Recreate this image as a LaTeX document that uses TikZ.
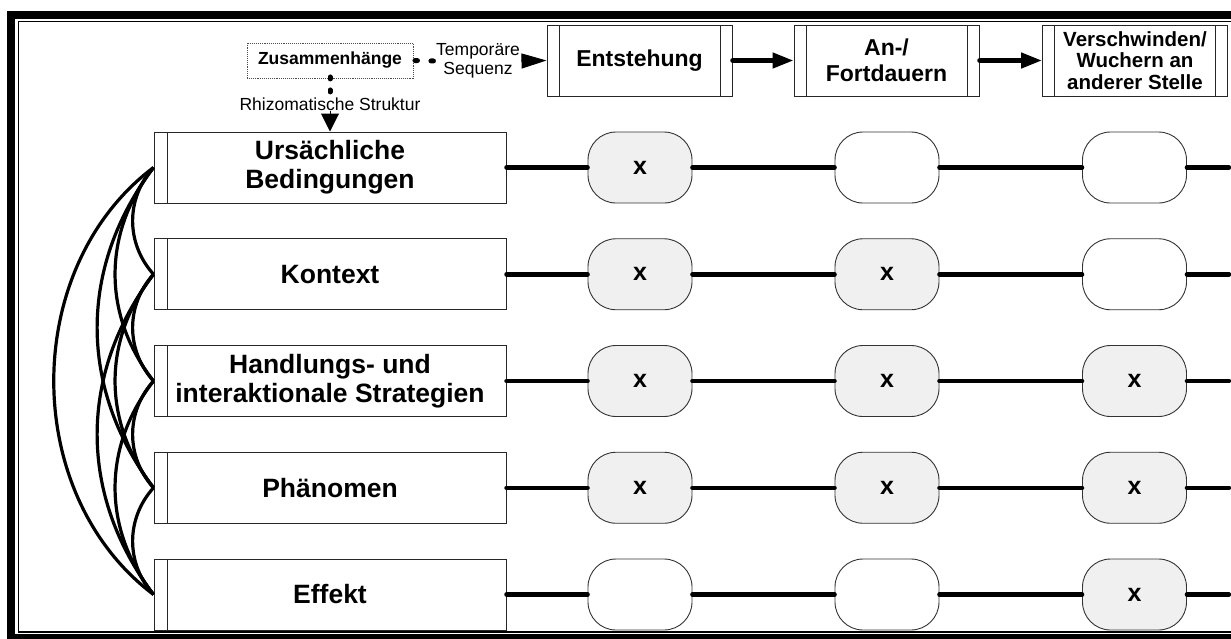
\documentclass[tikz,border=0pt]{standalone}
\usepackage{fontspec}
\setmainfont{Liberation Sans}
\usetikzlibrary{arrows.meta}
\begin{document}
\begin{tikzpicture}[x=1pt,y=-1pt,
  boxline/.style={draw=black!85, line width=1pt},
  rowlabel/.style={boxline, fill=white, minimum width=352pt, minimum height=71pt,
    inner sep=0pt, align=center, font=\fontsize{26.5}{29}\selectfont\bfseries,
    path picture={\draw[black!85, line width=1pt]
      ([xshift=13pt]path picture bounding box.north west) --
      ([xshift=13pt]path picture bounding box.south west);}},
  stagebox/.style={boxline, fill=white, minimum width=185pt, minimum height=71pt,
    inner sep=0pt, align=center,
    path picture={\draw[black!85, line width=1pt]
      ([xshift=12pt]path picture bounding box.north west) --
      ([xshift=12pt]path picture bounding box.south west)
      ([xshift=-12pt]path picture bounding box.north east) --
      ([xshift=-12pt]path picture bounding box.south east);}},
  cell/.style={draw=black!80, line width=0.9pt, fill=white, rounded corners=28pt,
    minimum width=104pt, minimum height=71pt, inner sep=0pt,
    font=\fontsize{25}{26}\selectfont\bfseries},
  marked/.style={cell, fill=black!6},
  rowline/.style={line width=4.5pt, line cap=round},
  flow/.style={line width=4.5pt, line cap=round, -{Triangle[length=21pt,width=15pt]}},
  dotline/.style={line width=5pt, line cap=round},
  tip/.style={line width=1pt, -{Triangle[length=#1,width=15pt]}},
  link/.style={line width=3.2pt},
  smalltext/.style={fill=white, inner sep=1pt, align=center,
    font=\fontsize{17.5}{18.5}\selectfont}
]
\clip (0,0) rectangle (1231,638);
\fill[white] (0,0) rectangle (1231,638);

% double frame
\draw[line width=8pt] (1260,15) -- (11,15) -- (11,638) -- (1260,638);
\draw[line width=1.5pt] (1260,21.5) -- (18.3,21.5) -- (18.3,632) -- (1260,632);

% header: relation node and the three stages
\node[draw=black!70, densely dotted, line width=0.9pt, fill=white,
      minimum width=166pt, minimum height=35pt, inner sep=0pt,
      font=\fontsize{17.5}{19}\selectfont\bfseries] (zus) at (330,60.5) {Zusammenhänge};
\node[stagebox, font=\fontsize{23}{26}\selectfont\bfseries] (s1) at (639.5,60.5) {Entstehung};
\node[stagebox, font=\fontsize{23}{26}\selectfont\bfseries] (s2) at (886.5,60.5) {An-/\\Fortdauern};
\node[stagebox, font=\fontsize{20.5}{21.5}\selectfont\bfseries] (s3) at (1135,60.5) {Verschwinden/\\Wuchern an\\anderer Stelle};

% row labels
\node[rowlabel] (r1) at (330,167.5) {Ursächliche\\Bedingungen};
\node[rowlabel] (r2) at (330,274.25) {Kontext};
\node[rowlabel] (r3) at (330,381) {Handlungs- und\\interaktionale Strategien};
\node[rowlabel] (r4) at (330,487.75) {Phänomen};
\node[rowlabel] (r5) at (330,594.5) {Effekt};

% matrix cells
\node[marked] (c11) at (640,167.5) {x};
\node[cell]   (c12) at (887,167.5) {};
\node[cell]   (c13) at (1134.5,167.5) {};
\node[marked] (c21) at (640,274.25) {x};
\node[marked] (c22) at (887,274.25) {x};
\node[cell]   (c23) at (1134.5,274.25) {};
\node[marked] (c31) at (640,381) {x};
\node[marked] (c32) at (887,381) {x};
\node[marked] (c33) at (1134.5,381) {x};
\node[marked] (c41) at (640,487.75) {x};
\node[marked] (c42) at (887,487.75) {x};
\node[marked] (c43) at (1134.5,487.75) {x};
\node[cell]   (c51) at (640,594.5) {};
\node[cell]   (c52) at (887,594.5) {};
\node[marked] (c53) at (1134.5,594.5) {x};

% row connectors
\foreach \r in {1,...,5}{
  \coordinate (e\r) at ([xshift=42pt]c\r3.east);
  \draw[rowline] (r\r.east) -- (c\r1.west);
  \draw[rowline] (c\r1.east) -- (c\r2.west);
  \draw[rowline] (c\r2.east) -- (c\r3.west);
  \draw[rowline] (c\r3.east) -- (e\r);
}

% stage sequence
\draw[flow] (s1.east) -- (s2.west);
\draw[flow] (s2.east) -- (s3.west);

% dotted relations with their labels
\node[smalltext] (tseq) at (478,61) {Temporäre\\Sequenz};
\node[smalltext, inner sep=0.5pt] (rhiz) at (330,104) {Rhizomatische Struktur};
\draw[dotline, dash pattern=on 2.5pt off 13.5pt] ([xshift=1.5pt]zus.east) -- (tseq.west);
\draw[tip=25pt] (tseq.east) -- (s1.west);
\draw[dotline, dash pattern=on 2pt off 11pt] ([yshift=1.5pt]zus.south) -- (rhiz.north);
\draw[tip=18pt, -{Triangle[length=18pt,width=18pt]}] (rhiz.south) -- (r1.north);

% rhizome links between the row labels
\draw[link] (r1.west) to[bend right=42] (r2.west);
\draw[link] (r2.west) to[bend right=42] (r3.west);
\draw[link] (r3.west) to[bend right=42] (r4.west);
\draw[link] (r4.west) to[bend right=42] (r5.west);
\draw[link] (r1.west) to[bend right=38] (r3.west);
\draw[link] (r2.west) to[bend right=38] (r4.west);
\draw[link] (r3.west) to[bend right=38] (r5.west);
\draw[link] (r1.west) to[bend right=37] (r4.west);
\draw[link] (r2.west) to[bend right=37] (r5.west);
\draw[link] (r1.west) to[bend right=53] (r5.west);
\end{tikzpicture}
\end{document}
